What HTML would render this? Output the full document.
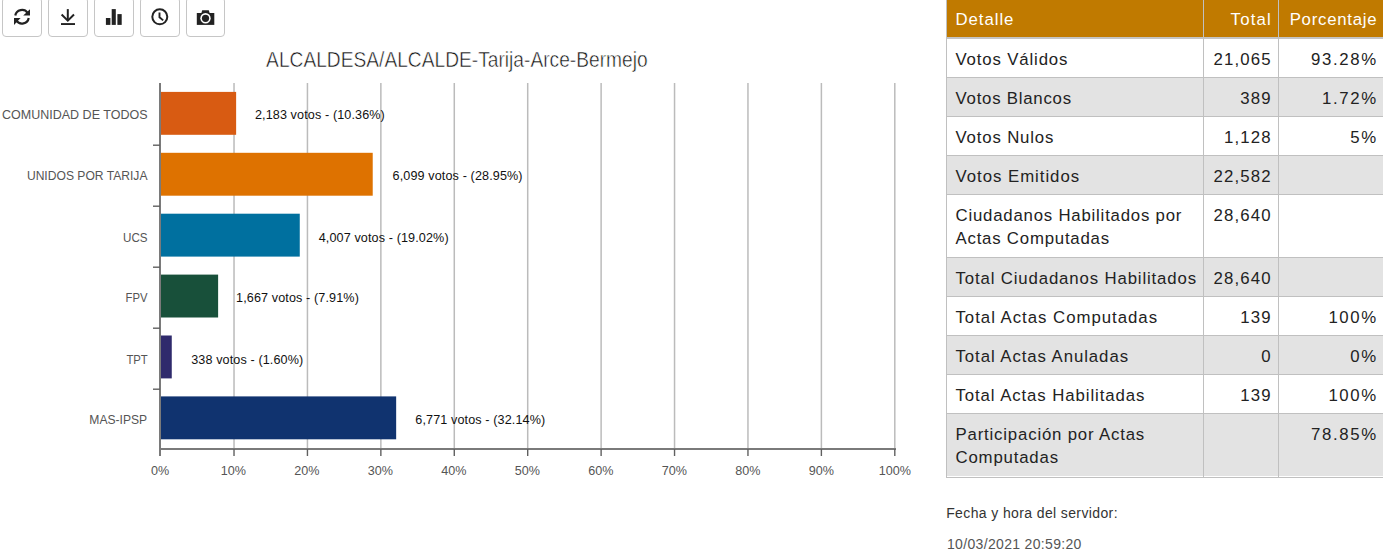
<!DOCTYPE html>
<html><head><meta charset="utf-8">
<style>
*{margin:0;padding:0;box-sizing:border-box}
html,body{width:1383px;height:555px;overflow:hidden;background:#fff;font-family:"Liberation Sans",sans-serif}
.abs{position:absolute}
.btn{position:absolute;top:-3px;width:40px;height:40px;border:1px solid #c6c6c6;border-radius:4px;background:#fff}
.title{position:absolute;left:0;width:913px;top:53px;text-align:center;font-size:21.5px;line-height:15px;color:#111;white-space:nowrap}.title span{display:inline-block;-webkit-text-stroke:0.5px #fff;paint-order:normal;transform:scaleX(0.892);transform-origin:50% 50%}
.cat{position:absolute;right:1235.5px;font-size:12.6px;color:#555;white-space:nowrap;line-height:9px;transform:scaleX(0.975);transform-origin:100% 50%}
.val{position:absolute;font-size:12.6px;letter-spacing:0.12px;color:#111;white-space:nowrap;line-height:9px}
.xl{position:absolute;top:467px;font-size:12.6px;color:#555;width:60px;text-align:center;line-height:9px}
.tb{position:absolute;font-size:16.8px;letter-spacing:0.75px;line-height:24px;color:#222;white-space:nowrap}
.hd{color:#fff}
.r{text-align:right;letter-spacing:1.15px}
.hl{position:absolute;left:946px;width:437px;height:1px;background:#c0c0c0}
.vl{position:absolute;top:0;width:1px;height:478px;background:#c0c0c0}
.gr{position:absolute;left:947px;width:436px;background:#e3e3e3}
</style></head>
<body>
<!-- toolbar -->
<div class="btn" style="left:2px"></div>
<div class="btn" style="left:48px"></div>
<div class="btn" style="left:94px"></div>
<div class="btn" style="left:140px"></div>
<div class="btn" style="left:186px;width:39px"></div>
<svg class="abs" style="left:0;top:0" width="240" height="40" viewBox="0 0 240 40">
<g fill="none" stroke="#222">
<path d="M15.27,15.5 A6.85,6.85 0 0 1 27.61,12.82" stroke-width="2.2"/>
<path d="M28.73,18 A6.85,6.85 0 0 1 16.39,20.68" stroke-width="2.2"/>
<path d="M67.8,9.1 V20" stroke-width="2"/>
<path d="M61.6,14.5 L67.8,20.6 L74,14.5" stroke-width="2"/>
<circle cx="159.8" cy="16.8" r="7.5" stroke-width="2"/>
<path d="M159.5,12.6 V17.2 L163.2,20.4" stroke-width="1.9"/>
</g>
<g fill="#222">
<path d="M30,9.3 L30,15.5 L23.2,15.5 Z"/>
<path d="M14,24.9 L14,18 L20.6,18 Z"/>
<rect x="61" y="23.1" width="14" height="1.9"/>
<rect x="105.9" y="18" width="4.5" height="6.9"/>
<rect x="111.7" y="9.1" width="4.1" height="15.8"/>
<rect x="117.4" y="14.1" width="4.3" height="10.8"/>
<rect x="196.8" y="13" width="17.5" height="11.9"/>
<path d="M201.3,13.2 L202.2,10.2 H208.8 L209.7,13.2 Z"/>
<circle cx="205.5" cy="18.3" r="5.2" fill="#fff"/>
<circle cx="205.5" cy="18.3" r="3.6"/>
</g>
</svg>

<div class="title"><span>ALCALDESA/ALCALDE-Tarija-Arce-Bermejo</span></div>
<svg class="abs" style="left:0;top:0" width="913" height="480" viewBox="0 0 913 480">
<g stroke="#bbbbbb" stroke-width="1.5">
<line x1="234.02" y1="83" x2="234.02" y2="449"/>
<line x1="307.44" y1="83" x2="307.44" y2="449"/>
<line x1="380.86" y1="83" x2="380.86" y2="449"/>
<line x1="454.28" y1="83" x2="454.28" y2="449"/>
<line x1="527.70" y1="83" x2="527.70" y2="449"/>
<line x1="601.12" y1="83" x2="601.12" y2="449"/>
<line x1="674.54" y1="83" x2="674.54" y2="449"/>
<line x1="747.96" y1="83" x2="747.96" y2="449"/>
<line x1="821.38" y1="83" x2="821.38" y2="449"/>
<line x1="894.80" y1="83" x2="894.80" y2="449"/>
</g>
<rect x="160" y="91.90" width="76.13" height="42.9" fill="#d85b12"/>
<rect x="160" y="152.80" width="212.72" height="42.9" fill="#de7200"/>
<rect x="160" y="213.70" width="139.76" height="42.9" fill="#00709f"/>
<rect x="160" y="274.60" width="58.12" height="42.9" fill="#18503a"/>
<rect x="160" y="335.50" width="11.76" height="42.9" fill="#2f2a6c"/>
<rect x="160" y="396.40" width="236.16" height="42.9" fill="#10336f"/>
<g fill="#7a7a7a">
<rect x="159" y="83" width="2" height="373"/>
<rect x="159" y="448" width="737" height="2"/>
</g>
<g stroke="#606060" stroke-width="1.4">
<line x1="153" y1="145.20" x2="160" y2="145.20"/>
<line x1="153" y1="206.20" x2="160" y2="206.20"/>
<line x1="153" y1="267.20" x2="160" y2="267.20"/>
<line x1="153" y1="328.20" x2="160" y2="328.20"/>
<line x1="153" y1="389.20" x2="160" y2="389.20"/>
<line x1="234.02" y1="449" x2="234.02" y2="456"/>
<line x1="307.44" y1="449" x2="307.44" y2="456"/>
<line x1="380.86" y1="449" x2="380.86" y2="456"/>
<line x1="454.28" y1="449" x2="454.28" y2="456"/>
<line x1="527.70" y1="449" x2="527.70" y2="456"/>
<line x1="601.12" y1="449" x2="601.12" y2="456"/>
<line x1="674.54" y1="449" x2="674.54" y2="456"/>
<line x1="747.96" y1="449" x2="747.96" y2="456"/>
<line x1="821.38" y1="449" x2="821.38" y2="456"/>
<line x1="894.80" y1="449" x2="894.80" y2="456"/>
</g>
</svg>
<div class="cat" style="top:111px;transform:scaleX(0.993)">COMUNIDAD DE TODOS</div>
<div class="cat" style="top:172px;transform:scaleX(0.961)">UNIDOS POR TARIJA</div>
<div class="cat" style="top:234px;transform:scaleX(0.924)">UCS</div>
<div class="cat" style="top:294px;transform:scaleX(0.896)">FPV</div>
<div class="cat" style="top:356px;transform:scaleX(0.9)">TPT</div>
<div class="cat" style="top:416px;transform:scaleX(0.961)">MAS-IPSP</div>
<div class="val" style="left:254.90px;top:111px">2,183 votos - (10.36%)</div>
<div class="val" style="left:392.6px;top:172px">6,099 votos - (28.95%)</div>
<div class="val" style="left:318.70px;top:234px">4,007 votos - (19.02%)</div>
<div class="val" style="left:236.05px;top:294px">1,667 votos - (7.91%)</div>
<div class="val" style="left:191.2px;top:356px">338 votos - (1.60%)</div>
<div class="val" style="left:415.30px;top:416px">6,771 votos - (32.14%)</div>
<div class="xl" style="left:130.00px">0%</div>
<div class="xl" style="left:203.48px">10%</div>
<div class="xl" style="left:276.96px">20%</div>
<div class="xl" style="left:350.44px">30%</div>
<div class="xl" style="left:423.92px">40%</div>
<div class="xl" style="left:497.40px">50%</div>
<div class="xl" style="left:570.88px">60%</div>
<div class="xl" style="left:644.36px">70%</div>
<div class="xl" style="left:717.84px">80%</div>
<div class="xl" style="left:791.32px">90%</div>
<div class="xl" style="left:864.80px">100%</div>

<!-- table -->
<div class="abs" style="left:947px;top:0;width:436px;height:37px;background:#c07a00"></div>
<div class="gr" style="top:78px;height:38px"></div>
<div class="gr" style="top:156px;height:38px"></div>
<div class="gr" style="top:258px;height:38px"></div>
<div class="gr" style="top:336px;height:38px"></div>
<div class="gr" style="top:414px;height:62px"></div>
<div class="hl" style="top:37px;height:2px;background:#c4c4c4"></div>
<div class="hl" style="top:77px"></div>
<div class="hl" style="top:116px"></div>
<div class="hl" style="top:155px"></div>
<div class="hl" style="top:194px"></div>
<div class="hl" style="top:257px"></div>
<div class="hl" style="top:296px"></div>
<div class="hl" style="top:335px"></div>
<div class="hl" style="top:374px"></div>
<div class="hl" style="top:413px"></div>
<div class="hl" style="top:477px"></div>
<div class="vl" style="left:946px"></div>
<div class="vl" style="left:1203px"></div>
<div class="vl" style="left:1278px"></div>
<div class="tb hd" style="left:955.5px;top:7.7px;letter-spacing:0.95px">Detalle</div>
<div class="tb hd r" style="right:111.2px;top:7.7px">Total</div>
<div class="tb hd r" style="right:5.6px;top:7.7px;letter-spacing:0.75px">Porcentaje</div>
<div class="tb" style="left:955.5px;top:47.7px;letter-spacing:0.85px">Votos Válidos</div>
<div class="tb r" style="right:111.2px;top:47.7px">21,065</div>
<div class="tb r" style="right:5.1px;top:47.7px;letter-spacing:1.65px">93.28%</div>
<div class="tb" style="left:955.5px;top:86.7px;letter-spacing:0.77px">Votos Blancos</div>
<div class="tb r" style="right:111.2px;top:86.7px">389</div>
<div class="tb r" style="right:5.1px;top:86.7px;letter-spacing:1.65px">1.72%</div>
<div class="tb" style="left:955.5px;top:125.7px;letter-spacing:0.83px">Votos Nulos</div>
<div class="tb r" style="right:111.2px;top:125.7px">1,128</div>
<div class="tb r" style="right:5.1px;top:125.7px;letter-spacing:1.65px">5%</div>
<div class="tb" style="left:955.5px;top:164.7px;letter-spacing:0.97px">Votos Emitidos</div>
<div class="tb r" style="right:111.2px;top:164.7px">22,582</div>
<div class="tb" style="left:955.5px;top:203.7px;letter-spacing:0.79px;line-height:23.6px">Ciudadanos Habilitados por<br>Actas Computadas</div>
<div class="tb r" style="right:111.2px;top:203.7px">28,640</div>
<div class="tb" style="left:955.5px;top:266.7px;letter-spacing:0.86px">Total Ciudadanos Habilitados</div>
<div class="tb r" style="right:111.2px;top:266.7px">28,640</div>
<div class="tb" style="left:955.5px;top:305.7px;letter-spacing:0.98px">Total Actas Computadas</div>
<div class="tb r" style="right:111.2px;top:305.7px">139</div>
<div class="tb r" style="right:5.1px;top:305.7px;letter-spacing:1.65px">100%</div>
<div class="tb" style="left:955.5px;top:344.7px;letter-spacing:0.93px">Total Actas Anuladas</div>
<div class="tb r" style="right:111.2px;top:344.7px">0</div>
<div class="tb r" style="right:5.1px;top:344.7px;letter-spacing:1.65px">0%</div>
<div class="tb" style="left:955.5px;top:383.7px;letter-spacing:0.91px">Total Actas Habilitadas</div>
<div class="tb r" style="right:111.2px;top:383.7px">139</div>
<div class="tb r" style="right:5.1px;top:383.7px;letter-spacing:1.65px">100%</div>
<div class="tb" style="left:955.5px;top:422.7px;letter-spacing:0.82px;line-height:23.6px">Participación por Actas<br>Computadas</div>
<div class="tb r" style="right:5.1px;top:422.7px;letter-spacing:1.65px">78.85%</div>
<div class="abs" style="left:946.2px;top:505.1px;font-size:14px;letter-spacing:0.38px;line-height:17px;color:#333;white-space:nowrap">Fecha y hora del servidor:</div>
<div class="abs" style="left:947px;top:535.8px;font-size:14px;letter-spacing:0.33px;line-height:17px;color:#555;white-space:nowrap">10/03/2021 20:59:20</div>
</body></html>
